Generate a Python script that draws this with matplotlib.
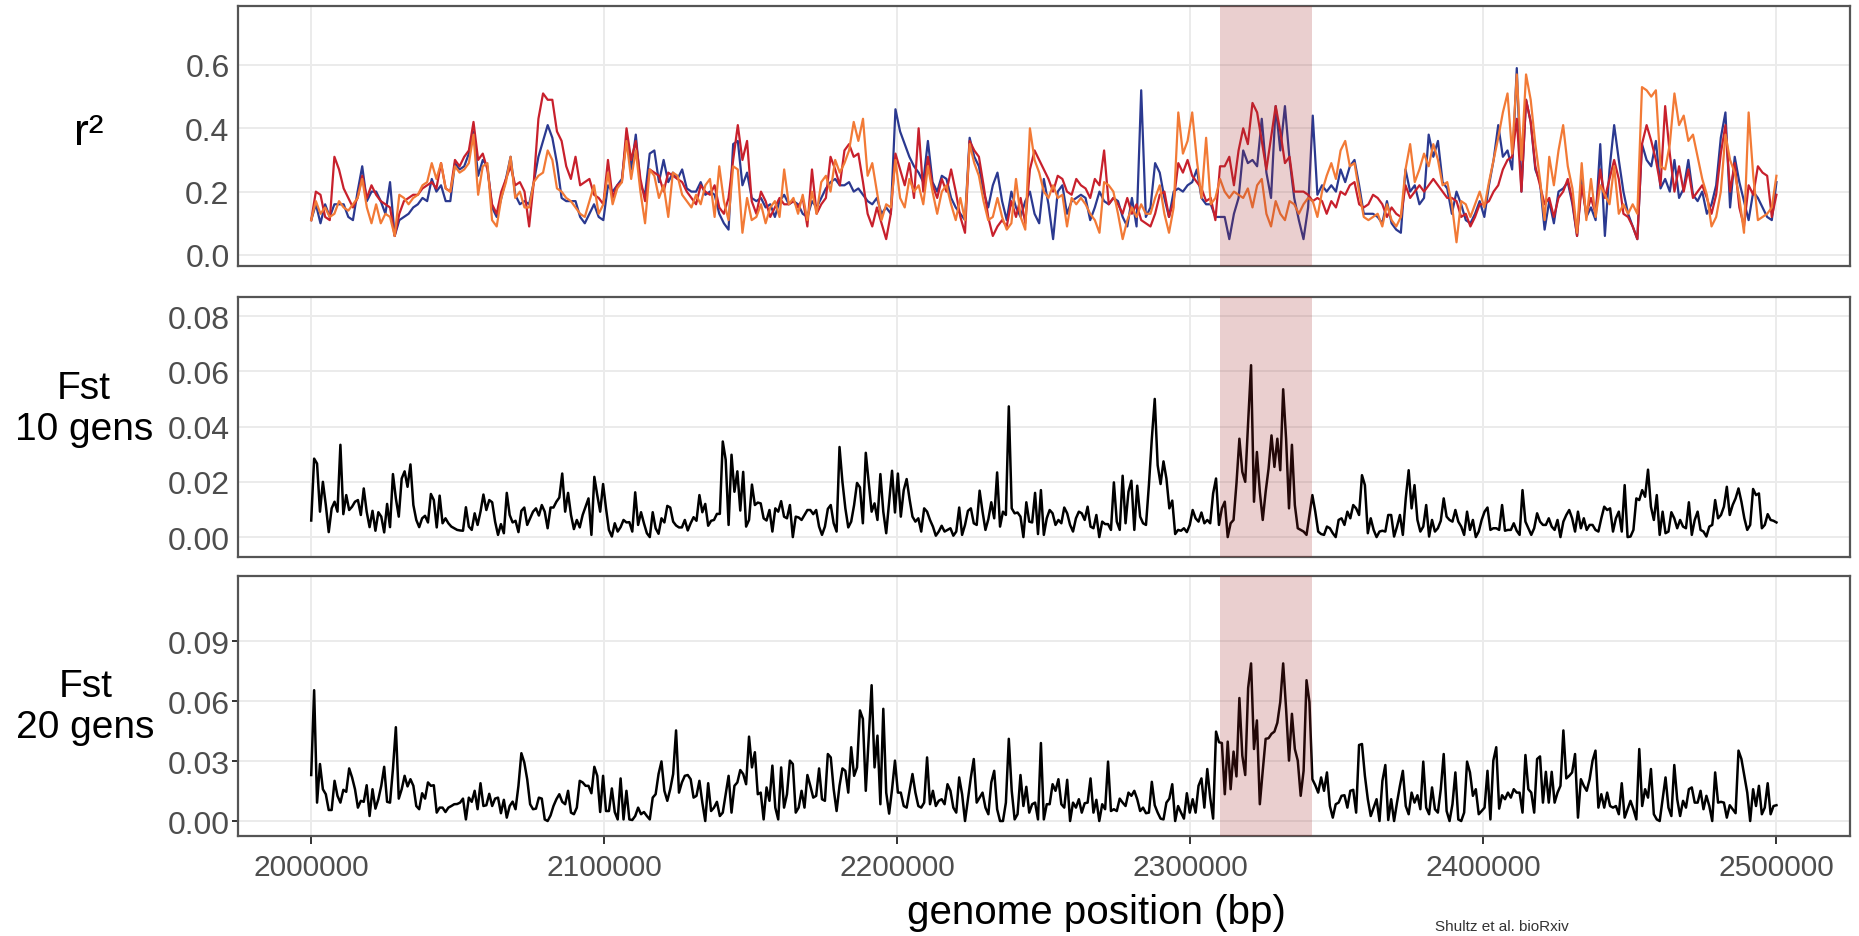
import numpy as np
import matplotlib
matplotlib.use('Agg')
import matplotlib.pyplot as plt

matplotlib.rcParams['font.family'] = ['Liberation Sans', 'DejaVu Sans']

START, END = 2000000, 2500000
REGION = (2310000, 2341500)

# r2 per window, three time points
R2_BLUE = [
    .11, .16, .10, .16, .12, .16, .16, .16, .12, .11,
    .20, .28, .17, .20, .20, .17, .13, .23, .06, .11,
    .12, .13, .15, .16, .18, .17, .24, .20, .22, .17,
    .17, .29, .27, .28, .32, .39, .25, .30, .28, .15,
    .12, .18, .24, .31, .19, .16, .17, .16, .23, .31,
    .36, .41, .37, .29, .18, .17, .17, .17, .12, .10,
    .13, .16, .12, .11, .22, .20, .22, .24, .37, .27,
    .38, .22, .19, .32, .33, .23, .30, .23, .26, .24,
    .27, .21, .20, .20, .23, .19, .20, .19, .13, .10,
    .08, .35, .36, .22, .26, .18, .17, .18, .15, .16,
    .12, .17, .19, .16, .17, .16, .13, .12, .17, .15,
    .18, .21, .23, .24, .22, .22, .23, .20, .21, .19,
    .17, .16, .18, .13, .15, .13, .46, .39, .35, .31,
    .28, .26, .23, .36, .23, .20, .25, .24, .18, .15,
    .13, .11, .37, .31, .28, .20, .15, .22, .26, .17,
    .11, .20, .15, .12, .17, .20, .13, .10,
    .24, .16, .05, .20, .22, .13, .17, .18, .19, .18,
    .11, .15, .20, .17, .16, .18, .17, .12, .09, .18,
    .09, .52, .12, .15, .29, .26, .18, .12, .20, .21,
    .20, .22, .23, .27, .18, .16, .16, .12, .12, .12,
    .05, .13, .18, .33, .29, .30, .28, .43, .26, .18,
    .47, .33, .47, .30, .18, .11, .05, .15, .44, .19,
    .22, .20, .22, .20, .27, .23, .28, .30, .22, .13,
    .13, .13, .12, .10, .17, .10, .08, .07, .27, .20,
    .22, .16, .18, .38, .31, .36, .23, .21, .13, .20,
    .16, .11, .10, .13, .17, .12, .22, .30, .41, .31,
    .33, .27, .59, .20, .49, .42, .27, .23, .08, .17,
    .10, .20, .21, .23, .16, .06, .24, .12, .15, .11,
    .35, .06, .27, .41, .30, .20, .13, .09, .05, .35,
    .30, .28, .36, .21, .24, .20, .30, .18, .21, .30,
    .19, .17, .20, .13, .16, .22, .37, .45, .15, .31,
    .23, .17, .11, .20, .18, .15, .12, .11, .23,
]
R2_RED = [
    .11, .20, .19, .12, .11, .31, .27, .21, .18, .15,
    .18, .25, .18, .22, .19, .17, .16, .15, .06, .13,
    .17, .18, .19, .19, .21, .22, .23, .21, .29, .21,
    .20, .30, .28, .31, .33, .42, .30, .32, .27, .16,
    .13, .20, .24, .28, .22, .23, .20, .09, .23, .43,
    .51, .49, .49, .39, .36, .28, .24, .31, .22, .23,
    .24, .19, .18, .16, .30, .18, .22, .23, .40, .30,
    .36, .24, .17, .27, .26, .25, .20, .26, .25, .24,
    .23, .20, .18, .16, .22, .20, .19, .22, .15, .13,
    .18, .30, .41, .30, .36, .17, .13, .20, .17, .12,
    .15, .18, .16, .16, .17, .15, .18, .09, .27, .13,
    .16, .18, .31, .27, .22, .33, .35, .31, .32, .23,
    .13, .09, .15, .10, .05, .13, .32, .27, .22, .29,
    .18, .40, .20, .31, .22, .18, .24, .20, .27, .20,
    .12, .07, .36, .33, .31, .22, .12, .06, .09, .11,
    .09, .17, .12, .18, .10, .27, .33, .30,
    .27, .24, .20, .25, .24, .20, .19, .24, .22, .21,
    .18, .24, .22, .33, .16, .18, .16, .13, .18, .13,
    .16, .11, .10, .09, .13, .19, .20, .12, .17, .29,
    .26, .30, .25, .23, .21, .17, .18, .11, .28, .28,
    .31, .22, .33, .40, .35, .48, .45, .36, .27, .37,
    .47, .39, .29, .31, .20, .20, .20, .19, .17, .18,
    .17, .13, .17, .15, .20, .19, .22, .23, .16, .15,
    .16, .19, .18, .16, .12, .15, .13, .12, .22, .18,
    .20, .22, .20, .22, .24, .22, .20, .18, .18, .17,
    .12, .13, .09, .12, .16, .16, .17, .20, .22, .27,
    .30, .31, .43, .20, .49, .42, .28, .22, .16, .18,
    .12, .18, .20, .24, .17, .06, .22, .13, .18, .13,
    .27, .18, .24, .30, .24, .13, .12, .09, .05, .35,
    .41, .36, .30, .22, .47, .32, .20, .28, .20, .27,
    .18, .20, .22, .18, .13, .19, .32, .41, .20, .29,
    .15, .09, .22, .19, .28, .26, .25, .12, .19,
]
R2_ORANGE = [
    .11, .17, .13, .15, .12, .13, .17, .15, .14, .16,
    .18, .24, .15, .10, .16, .10, .13, .12, .06, .19,
    .18, .16, .18, .19, .22, .23, .29, .24, .29, .21,
    .20, .28, .26, .27, .29, .38, .19, .28, .29, .11,
    .09, .18, .23, .31, .18, .20, .15, .15, .23, .25,
    .26, .33, .30, .21, .20, .18, .17, .15, .13, .12,
    .17, .22, .13, .16, .26, .16, .21, .23, .36, .24,
    .33, .20, .10, .27, .25, .18, .22, .12, .26, .25,
    .19, .17, .15, .19, .16, .22, .24, .12, .28, .17,
    .11, .28, .27, .07, .18, .11, .12, .16, .10, .15,
    .17, .12, .27, .16, .18, .13, .19, .11, .20, .13,
    .23, .25, .20, .30, .26, .29, .33, .42, .36, .43,
    .25, .29, .20, .11, .16, .15, .30, .18, .15, .24,
    .20, .22, .16, .28, .20, .13, .20, .22, .16, .11,
    .18, .11, .35, .29, .25, .17, .11, .12, .18, .12,
    .08, .10, .24, .12, .08, .40, .30, .26,
    .20, .18, .22, .18, .19, .09, .18, .16, .18, .16,
    .13, .11, .07, .23, .22, .20, .13, .05, .11, .15,
    .12, .16, .13, .13, .18, .22, .13, .07, .15, .45,
    .32, .36, .45, .30, .18, .37, .16, .18, .24, .20,
    .18, .20, .19, .18, .21, .15, .22, .24, .13, .09,
    .17, .13, .11, .17, .16, .13, .16, .18, .17, .12,
    .20, .25, .29, .24, .33, .36, .28, .29, .20, .12,
    .11, .12, .13, .09, .16, .11, .09, .12, .27, .35,
    .23, .27, .32, .28, .35, .30, .22, .23, .16, .04,
    .17, .16, .12, .16, .20, .15, .23, .30, .37, .45,
    .51, .32, .57, .30, .57, .49, .35, .24, .11, .31,
    .22, .33, .41, .28, .21, .07, .29, .11, .24, .12,
    .22, .19, .16, .28, .13, .16, .13, .16, .13, .53,
    .52, .50, .52, .28, .27, .35, .51, .41, .44, .36,
    .38, .31, .24, .19, .09, .12, .20, .38, .30, .26,
    .18, .07, .45, .25, .11, .12, .13, .15, .25,
]

# Fst after 10 generations, 1 kb windows
FST_10 = [
    .006, .0284, .0266, .0092, .020, .0116, .0018, .0104, .0128, .0092,
    .0334, .0083, .0152, .0098, .011, .0128, .0134, .008, .0176, .0092,
    .0036, .0095, .0023, .009, .0074, .0017, .012, .0036, .0228, .014,
    .0074, .0212, .0238, .0182, .0263, .0116, .0062, .0036, .0068, .0077,
    .0053, .0156, .0134, .0035, .015, .005, .0068, .005, .0038, .0032,
    .0026, .0024, .0023, .0108, .0038, .0026, .0086, .0044, .0092, .0154,
    .0098, .0134, .0126, .0056, .0008, .0047, .0014, .016, .008, .0053,
    .0059, .0018, .0095, .0107, .0044, .0068, .0092, .0104, .0078, .0116,
    .0092, .0032, .0107, .0107, .0128, .0143, .023, .0092, .016, .008,
    .0029, .0062, .0035, .008, .011, .014, .0008, .0218, .0152, .0092,
    .0192, .0104, .0026, .0002, .005, .002, .0036, .0062, .0053, .0054,
    .002, .0162, .0044, .009, .005, .0014, .0, .009, .0032, .0012,
    .0068, .0053, .0113, .0107, .0056, .0042, .0035, .0035, .0062, .0024,
    .005, .0072, .0059, .0152, .009, .012, .0041, .0059, .0062, .0084,
    .0084, .0346, .028, .0044, .0298, .0164, .0238, .0096, .0236, .0038,
    .0062, .019, .0116, .0125, .0122, .0068, .006, .0098, .002, .0104,
    .0092, .013, .0074, .0068, .0116, .0, .0074, .0071, .0062, .008,
    .0098, .0098, .0083, .0098, .0038, .0008, .0038, .0102, .0116, .005,
    .002, .0326, .02, .0104, .0035, .0056, .0116, .0196, .018, .005,
    .0305, .02, .0092, .0122, .0062, .0228, .0092, .0014, .0128, .024,
    .0089, .023, .0074, .017, .021, .0137, .0074, .0056, .0068, .002,
    .0104, .0092, .0062, .0038, .0005, .002, .0041, .002, .0026, .0032,
    .0005, .002, .0107, .0008, .0044, .0095, .0104, .005, .0044, .0168,
    .0092, .0026, .0065, .0126, .0068, .0234, .0038, .0092, .008, .0473,
    .0104, .0086, .0089, .0074, .0, .0126, .0056, .0053, .016, .0011,
    .017, .0008, .0068, .0098, .0086, .0044, .0062, .005, .0107, .0086,
    .0044, .002, .0068, .0092, .0086, .0062, .011, .0038, .0032, .008,
    .0, .0056, .0047, .0047, .0026, .0198, .0056, .0026, .0222, .005,
    .0164, .0204, .0026, .0186, .0074, .005, .0044, .0188, .0356, .05,
    .026, .0192, .0274, .0212, .0104, .0132, .0011, .0026, .0023, .0032,
    .0018, .0044, .0098, .0068, .0056, .0089, .005, .0062, .005, .0158,
    .0212, .0044, .0104, .0128, .0, .005, .0062, .0194, .0356, .0236,
    .02, .0416, .0622, .0128, .0308, .0164, .0062, .0164, .0248, .0368,
    .0254, .0356, .0242, .0535, .0356, .0104, .0334, .0116, .0032, .0026,
    .002, .0008, .008, .0152, .0092, .002, .0011, .0008, .0038, .0032,
    .0014, .0, .0062, .0068, .0044, .0092, .0068, .0116, .0104, .008,
    .0224, .0188, .0014, .0068, .0026, .0, .002, .0023, .002, .008,
    .008, .0002, .0038, .008, .0008, .014, .0242, .0104, .0188, .0062,
    .002, .0038, .0116, .0002, .0062, .002, .0032, .0059, .014, .0074,
    .0062, .0056, .0098, .0056, .0038, .0008, .0092, .0026, .0062, .0,
    .002, .0062, .0092, .0107, .0026, .0032, .0032, .0026, .0116, .0023,
    .0026, .0026, .005, .0023, .0008, .017, .0056, .0032, .0008, .0032,
    .0086, .0056, .0044, .0044, .0068, .0038, .0026, .0062, .0, .0056,
    .008, .0098, .0068, .002, .0092, .0032, .0068, .0026, .0044, .0044,
    .0026, .002, .0068, .011, .0098, .0104, .002, .0068, .0092, .002,
    .0188, .0, .0002, .0026, .014, .0134, .017, .0146, .0244, .011,
    .0062, .0152, .0008, .0092, .0014, .002, .009, .0068, .0032, .0062,
    .0038, .0032, .0126, .0008, .0062, .0092, .0026, .002, .0002, .0038,
    .0044, .0134, .0068, .008, .011, .0182, .008, .0116, .014, .0176,
    .0128, .0068, .0026, .0044, .0174, .0152, .0158, .0032, .0044, .0083,
    .0062, .0059, .0053,
]

# Fst after 20 generations, 1 kb windows
FST_20 = [
    .023, .0654, .0092, .0285, .0159, .0134, .0055, .0055, .0201, .0126,
    .0092, .0156, .0146, .0263, .0218, .0159, .0067, .0101, .0096, .0179,
    .0025, .0159, .0062, .0109, .0176, .0271, .0096, .0092, .026, .0469,
    .0112, .0159, .0226, .0173, .0209, .0176, .0075, .0059, .0139, .0112,
    .0193, .0176, .0179, .0042, .0067, .0067, .0045, .0067, .0075, .0084,
    .0085, .0092, .0112, .0008, .0117, .0096, .0151, .0059, .0189, .0075,
    .0079, .0136, .0075, .0112, .0117, .0039, .0106, .0017, .0075, .0097,
    .0059, .0176, .0339, .0293, .0209, .0084, .0059, .0062, .0117, .0112,
    .0008, .0, .0028, .0075, .0109, .0134, .0096, .0084, .0151, .0042,
    .0034, .0067, .0201, .0193, .0176, .0176, .0139, .0271, .0226, .0045,
    .0226, .005, .005, .0163, .0045, .0008, .0213, .0008, .0151, .0008,
    .0005, .0025, .0067, .0034, .0045, .0025, .0008, .0117, .0134, .0235,
    .0298, .0151, .0101, .0159, .0235, .0453, .0142, .0193, .0226, .023,
    .0209, .0117, .0126, .0201, .0092, .0, .0189, .005, .0067, .0096,
    .0025, .0042, .0134, .0226, .0042, .0176, .0193, .0255, .0235, .0184,
    .0422, .0268, .0344, .0134, .0142, .0008, .0168, .0101, .0277, .0067,
    .0008, .0268, .0067, .0134, .0302, .0285, .0042, .0067, .0151, .0067,
    .023, .0176, .0117, .0126, .0263, .0109, .0101, .0335, .0318, .0159,
    .005, .0176, .0263, .0251, .0142, .0369, .0226, .0268, .0553, .0511,
    .0151, .0411, .0679, .0268, .0427, .0084, .0561, .0142, .0037, .0159,
    .0302, .0142, .0142, .0075, .0067, .0151, .0235, .0142, .0075, .0067,
    .0092, .0318, .0084, .0151, .0075, .0101, .0109, .0084, .0184, .0151,
    .0067, .0042, .0218, .0134, .0, .0109, .0218, .031, .0092, .0117,
    .0142, .0067, .0034, .0193, .0251, .0059, .0, .0, .0092, .0411,
    .0151, .0008, .0034, .023, .0075, .0171, .0042, .0084, .0092, .0008,
    .039, .0008, .0084, .0084, .0184, .0151, .0209, .0084, .0067, .0206,
    .0, .0092, .0067, .0109, .0042, .0089, .0092, .0213, .0042, .0106,
    .0, .0084, .0059, .0297, .005, .0059, .005, .0112, .0092, .0075,
    .0142, .0126, .0151, .0109, .005, .0067, .0039, .0042, .0196, .0079,
    .0042, .0012, .0008, .0092, .0112, .0184, .0, .0075, .0042, .0012,
    .0139, .0042, .0109, .0042, .0176, .0213, .0067, .026, .0117, .0012,
    .0447, .0394, .039, .0134, .0397, .0159, .0347, .0223, .0615, .0327,
    .023, .0665, .0788, .036, .0503, .0084, .0251, .0411, .0414, .0436,
    .0447, .0491, .0595, .0788, .0561, .0302, .0536, .036, .0302, .0126,
    .0251, .0704, .0595, .0209, .0179, .0142, .0218, .0151, .0243, .0075,
    .0017, .0084, .0092, .0126, .0129, .0067, .0151, .0156, .0042, .038,
    .0385, .0226, .0109, .0025, .0067, .0109, .0, .0201, .028, .0005,
    .0109, .0, .0092, .0176, .0251, .0075, .0034, .0142, .0092, .0129,
    .0059, .0297, .0067, .0034, .0168, .0059, .0042, .0159, .0335, .005,
    .0, .0084, .0243, .0008, .0, .0042, .0297, .0243, .0126, .0159,
    .0034, .005, .0067, .0251, .0008, .0302, .0369, .0062, .0129, .0109,
    .0142, .0117, .0159, .0142, .0142, .0042, .033, .0159, .0142, .0042,
    .031, .0323, .0092, .0246, .0092, .0246, .0092, .0142, .0176, .0453,
    .0213, .0226, .0243, .0335, .0017, .0209, .0176, .0151, .0209, .0302,
    .0352, .0067, .0134, .0067, .0142, .0075, .0067, .0075, .0034, .0189,
    .0017, .0059, .0101, .0059, .0008, .036, .0075, .0159, .0117, .026,
    .0034, .0008, .0, .0109, .0218, .0067, .0025, .028, .0109, .0025,
    .0101, .0067, .0159, .0168, .0092, .0092, .0151, .0059, .0126, .0075,
    .0, .0243, .0092, .0096, .0092, .0017, .0079, .0059, .0039, .0352,
    .031, .0226, .0142, .0, .0159, .0075, .0176, .0034, .0067, .0189,
    .0034, .0075, .0079,
]

X_TICKS = [2000000, 2100000, 2200000, 2300000, 2400000, 2500000]
R2_TICKS = [0.0, 0.2, 0.4, 0.6]
FST10_TICKS = [0.00, 0.02, 0.04, 0.06, 0.08]
FST20_TICKS = [0.00, 0.03, 0.06, 0.09]

BLUE = '#2b3990'
RED = '#c8202c'
ORANGE = '#f27a36'
FRAME = '#555555'
GRID = '#ebebeb'
TICK_TXT = '#4d4d4d'


def positions(values):
    return np.linspace(START, END, len(values))


def style_panel(ax, ylim, yticks, fmt, bottom):
    ax.set_xlim(1975000, 2525000)
    ax.set_ylim(*ylim)
    ax.set_xticks(X_TICKS)
    ax.set_yticks(yticks)
    ax.set_yticklabels([fmt.format(t) for t in yticks])
    ax.grid(True, color=GRID, linewidth=1.4)
    ax.set_axisbelow(True)
    for sp in ax.spines.values():
        sp.set_color(FRAME)
        sp.set_linewidth(1.6)
    ax.axvspan(*REGION, color='#a02828', alpha=0.22, lw=0, zorder=3)
    if bottom:
        ax.tick_params(axis='y', length=4, width=1.4, color='#333333',
                       pad=2, labelsize=23, labelcolor=TICK_TXT)
        ax.tick_params(axis='x', length=6, width=1.4, color='#333333',
                       pad=6, labelsize=21.5, labelcolor=TICK_TXT)
        ax.set_xticklabels([str(t) for t in X_TICKS])
    else:
        ax.tick_params(axis='y', length=0, pad=6, labelsize=23,
                       labelcolor=TICK_TXT)
        ax.tick_params(axis='x', length=0, labelbottom=False)


def main():
    fig = plt.figure(figsize=(18.59, 9.37), dpi=100)
    fig.patch.set_facecolor('white')

    left, width, height = 0.128, 0.867, 0.2775
    ax1 = fig.add_axes([left, 0.715, width, height])
    ax2 = fig.add_axes([left, 0.4045, width, height])
    ax3 = fig.add_axes([left, 0.1067, width, height])

    ax1.plot(positions(R2_BLUE), R2_BLUE, color=BLUE, lw=1.6)
    ax1.plot(positions(R2_RED), R2_RED, color=RED, lw=1.6)
    ax1.plot(positions(R2_ORANGE), R2_ORANGE, color=ORANGE, lw=1.6)
    style_panel(ax1, (-0.035, 0.786), R2_TICKS, '{:.1f}', False)

    ax2.plot(positions(FST_10), FST_10, color='black', lw=1.8)
    style_panel(ax2, (-0.0072, 0.0869), FST10_TICKS, '{:.2f}', False)

    ax3.plot(positions(FST_20), FST_20, color='black', lw=1.8)
    style_panel(ax3, (-0.0075, 0.1225), FST20_TICKS, '{:.2f}', True)

    fig.text(0.048, 0.857, 'r\u00b2', ha='center', va='center', fontsize=32)
    fig.text(0.045, 0.563, 'Fst\n10 gens', ha='center', va='center',
             fontsize=28, linespacing=1.2)
    fig.text(0.046, 0.245, 'Fst\n20 gens', ha='center', va='center',
             fontsize=28, linespacing=1.2)
    fig.text(0.59, 0.026, 'genome position (bp)', ha='center', va='center',
             fontsize=29)
    fig.text(0.772, 0.003, 'Shultz et al. bioRxiv', ha='left', va='bottom',
             fontsize=11, color='#333333')

    fig.savefig('out.png', dpi=100, facecolor='white')


if __name__ == '__main__':
    main()
